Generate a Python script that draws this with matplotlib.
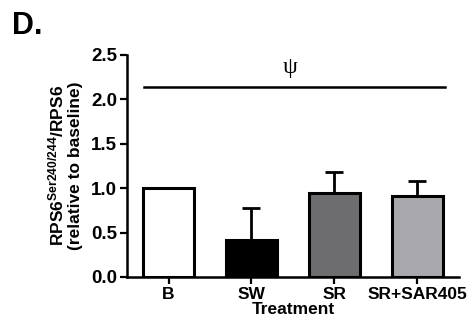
import matplotlib.pyplot as plt

plt.rcParams['font.family'] = ['Liberation Sans', 'DejaVu Sans']
plt.rcParams['font.weight'] = 'bold'
plt.rcParams['mathtext.default'] = 'regular'

groups = ["B", "SW", "SR", "SR+SAR405"]
means = [1.0, 0.41, 0.94, 0.91]
sem_up = [0.0, 0.37, 0.24, 0.17]
colors = ["#ffffff", "#000000", "#6d6d70", "#a9a8ad"]
sig_level = 2.14
sig_mark = "\u03c8"

fig = plt.figure(figsize=(4.74, 3.25), dpi=100)
ax = fig.add_axes([0.268, 0.148, 0.700, 0.683])

x = list(range(len(groups)))
ax.errorbar(x, means, yerr=[[0] * len(groups), sem_up], fmt="none",
            ecolor="black", elinewidth=2, capsize=6.5, capthick=2, zorder=1)
ax.bar(x, means, width=0.62, color=colors, edgecolor="black", linewidth=2.2, zorder=2)

# significance line across all groups
ax.plot([-0.3, 3.33], [sig_level, sig_level], color="black", lw=1.8)
ax.text(1.47, 2.36, sig_mark, ha="center", va="center", fontsize=17,
        family=["Liberation Serif", "DejaVu Serif"], fontweight="normal")

ax.set_xlim(-0.5, 3.5)
ax.set_ylim(0, 2.5)
ax.set_yticks([0, 0.5, 1.0, 1.5, 2.0, 2.5])
ax.set_yticklabels(["0.0", "0.5", "1.0", "1.5", "2.0", "2.5"])
ax.set_xticks(x)
ax.set_xticklabels(groups)
ax.tick_params(width=1.6, length=5, pad=2)
ax.tick_params(axis="y", labelsize=13.5)
ax.tick_params(axis="x", labelsize=12.5)
for s in ["top", "right"]:
    ax.spines[s].set_visible(False)
for s in ["left", "bottom"]:
    ax.spines[s].set_linewidth(1.8)

ax.set_xlabel("Treatment", fontsize=12.5, fontweight="bold", labelpad=0)
ax.set_ylabel("RPS6$^{Ser240/244}$/RPS6\n(relative to baseline)", fontsize=12.5,
              fontweight="bold", labelpad=6, linespacing=1.15)

fig.text(0.025, 0.965, "D.", fontsize=22, fontweight="bold", va="top")

fig.savefig("out.png", dpi=100)
